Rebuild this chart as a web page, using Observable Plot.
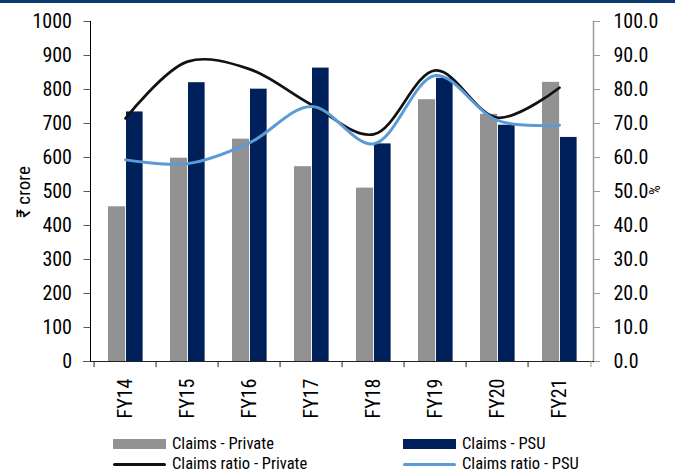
<!DOCTYPE html>
<html>
<head>
<meta charset="utf-8">
<script src="https://cdn.jsdelivr.net/npm/d3@7"></script>
<script src="https://cdn.jsdelivr.net/npm/@observablehq/plot@0.6"></script>
<style>
  html, body { margin: 0; padding: 0; background: #fff; }
  #wrap { position: relative; width: 675px; height: 473px; overflow: hidden;
          font-family: "Liberation Sans Narrow", "Roboto Condensed", "Arial Narrow", Roboto, sans-serif; }
  #topbar { position: absolute; left: 0; top: 0; width: 675px; height: 3px; background: #0b3a6e; }
  .lg { position: absolute; font-size: 16.5px; color: #000; white-space: nowrap; line-height: 1; }
  .sw { position: absolute; }
  #ylab { position: absolute; left: 23px; top: 192px; transform: translate(-50%,-50%) rotate(-90deg); font-size: 19px; white-space: nowrap; }
  #rlab { position: absolute; left: 654px; top: 190px; transform: translate(-50%,-50%) rotate(90deg); font-size: 15px; }
</style>
</head>
<body>
<div id="wrap">
  <div id="chart"></div>
  <div id="topbar"></div>
  <div id="ylab">₹ crore</div>
  <div id="rlab">%</div>
  <div id="legend"></div>
</div>
<script>
const years = ["FY14","FY15","FY16","FY17","FY18","FY19","FY20","FY21"];
const claimsPrivate = [455, 598, 654, 573, 510, 770, 727, 821];
const claimsPSU     = [734, 820, 801, 863, 640, 833, 695, 659];
const ratioPrivate  = [71.5, 88.2, 86.0, 75.5, 66.8, 85.6, 71.7, 80.5];
const ratioPSU      = [59.3, 58.2, 64.3, 75.0, 64.0, 84.1, 70.9, 69.5];
const leftTicks = [0,100,200,300,400,500,600,700,800,900,1000];
const rightTicks = [0,10,20,30,40,50,60,70,80,90,100];
const seriesNames = ["Claims - Private","Claims - PSU","Claims ratio - Private","Claims ratio - PSU"];
const colors = {gray: "#929292", navy: "#00205b", black: "#111111", blue: "#5b9bd5"};

const W = 675, H = 430, mL = 90, mR = 82, mT = 21, mB = 69;
const bw = (W - mL - mR) / years.length;

const priv = years.map((y,i) => ({year: y, value: claimsPrivate[i], ratio: ratioPrivate[i]}));
const psu  = years.map((y,i) => ({year: y, value: claimsPSU[i], ratio: ratioPSU[i]}));

const chart = Plot.plot({
  width: W, height: H,
  marginLeft: mL, marginRight: mR, marginTop: mT, marginBottom: mB,
  style: {fontFamily: '"Liberation Sans Narrow", "Roboto Condensed", "Arial Narrow", Roboto, sans-serif', fontSize: "20px", color: "#000", background: "transparent"},
  x: {type: "band", domain: years, padding: 0, label: null},
  y: {domain: [0, 1000], label: null},
  marks: [
    Plot.barY(priv, {x: "year", y: "value", fill: colors.gray, insetLeft: 14, insetRight: bw - 32}),
    Plot.barY(psu,  {x: "year", y: "value", fill: colors.navy, insetLeft: 32, insetRight: bw - 49.5}),
    Plot.line(priv, {x: "year", y: d => d.ratio * 10, stroke: colors.black, strokeWidth: 2.7, curve: "catmull-rom"}),
    Plot.line(psu,  {x: "year", y: d => d.ratio * 10, stroke: colors.blue, strokeWidth: 2.9, curve: "catmull-rom"}),
    Plot.frame({anchor: "left", stroke: "#000", strokeWidth: 1}),
    Plot.frame({anchor: "right", stroke: "#9a9a9a", strokeWidth: 1.5}),
    Plot.ruleY([0], {stroke: "#222", strokeWidth: 1.2, insetLeft: -7, insetRight: -6}),
    Plot.ruleX(years, {x: d => d, dx: -bw/2, y1: 0, y2: -18, stroke: "#222", strokeWidth: 1}),
    Plot.ruleX([years[years.length-1]], {x: d => d, dx: bw/2, y1: 0, y2: -18, stroke: "#9a9a9a", strokeWidth: 1}),
    Plot.axisY({anchor: "left", ticks: leftTicks, tickFormat: d => String(d), tickSize: 6.5, tickPadding: 12, stroke: "#555", label: null}),
    Plot.axisY({anchor: "right", ticks: rightTicks.map(d => d * 10), tickFormat: d => (d / 10).toFixed(1), tickSize: 6, tickPadding: 14, stroke: "#9a9a9a", label: null}),
    Plot.axisX({anchor: "bottom", tickSize: 0, tickRotate: -90, tickPadding: 17, label: null})
  ]
});
document.getElementById("chart").appendChild(chart);

// legend
const lg = document.getElementById("legend");
const items = [
  {name: seriesNames[0], type: "box", color: colors.gray, x: 113, y: 444},
  {name: seriesNames[1], type: "box", color: colors.navy, x: 403, y: 444},
  {name: seriesNames[2], type: "line", color: colors.black, x: 113, y: 464},
  {name: seriesNames[3], type: "line", color: colors.blue, x: 403, y: 464}
];
for (const it of items) {
  const sw = document.createElement("div");
  sw.className = "sw";
  sw.style.left = it.x + "px";
  sw.style.width = "53px";
  sw.style.background = it.color;
  if (it.type === "box") { sw.style.top = (it.y - 5) + "px"; sw.style.height = "10px"; }
  else { sw.style.top = (it.y - 1.5) + "px"; sw.style.height = "3px"; sw.style.borderRadius = "1.5px"; }
  lg.appendChild(sw);
  const t = document.createElement("div");
  t.className = "lg";
  t.textContent = it.name;
  t.style.left = (it.x + 59) + "px";
  t.style.top = (it.y - 8) + "px";
  lg.appendChild(t);
}
</script>
</body>
</html>
